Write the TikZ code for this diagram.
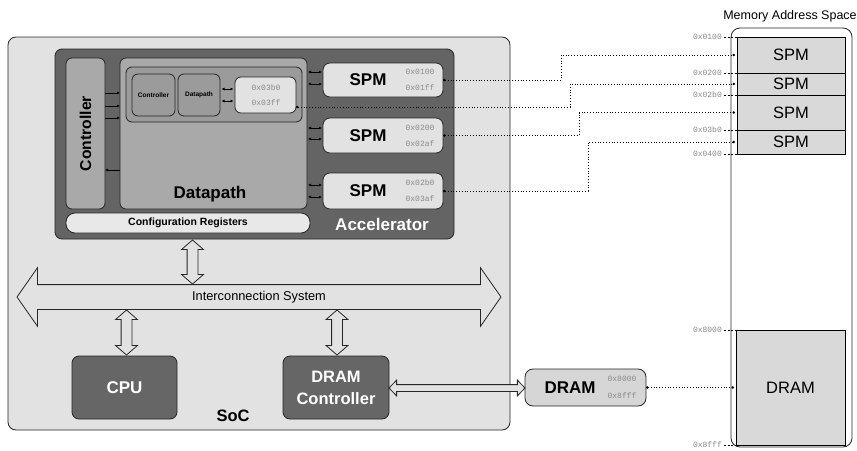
\documentclass[tikz,border=0pt]{standalone}
\usepackage{fontspec}
\setmainfont{Liberation Sans}
\setmonofont{Liberation Mono}
\usetikzlibrary{shapes.arrows,arrows.meta,calc}
\definecolor{socbg}{HTML}{E2E2E2}
\definecolor{accbg}{HTML}{646464}
\definecolor{midgray}{HTML}{A9A9A9}
\definecolor{innergray}{HTML}{9B9B9B}
\definecolor{lightbox}{HTML}{E2E2E2}
\definecolor{cfgfill}{HTML}{E8E8E8}
\definecolor{darkbox}{HTML}{666666}
\definecolor{dramfill}{HTML}{D6D6D6}
\definecolor{memfill}{HTML}{D9D9D9}
\definecolor{addrgray}{HTML}{8A8A8A}
\definecolor{edge}{HTML}{262626}
\begin{document}
\begin{tikzpicture}[x=1pt,y=-1pt,
  box/.style={draw=edge,line width=0.8pt,rounded corners=#1,inner sep=0pt,outer sep=0pt},
  box/.default=7pt,
  membox/.style={draw=black,line width=0.8pt,fill=memfill,inner sep=0pt,outer sep=0pt,font=\fontsize{16.5}{18}\selectfont},
  bigbold/.style={font=\fontsize{17}{20}\selectfont\bfseries,inner sep=0pt},
  tinybold/.style={font=\fontsize{6.5}{7}\selectfont\bfseries},
  addr/.style={font=\fontsize{8}{9}\ttfamily,text=addrgray,inner sep=0pt},
  maddr/.style={font=\fontsize{8}{9}\ttfamily,text=addrgray,inner sep=0pt,anchor=east},
  sarr/.style={{Latex[length=3pt,width=3pt]}-{Latex[length=3pt,width=3pt]},line width=0.6pt,black},
  sarrone/.style={-{Latex[length=3pt,width=3pt]},line width=0.6pt,black},
  dotline/.style={line width=0.8pt,dash pattern=on 1pt off 1.8pt,{Circle[length=2.4pt]}-{Circle[length=2.4pt]}},
  tick/.style={line width=0.6pt,dash pattern=on 2pt off 1.5pt},
  bus/.style={draw=edge,line width=0.8pt,fill=socbg,shape=double arrow,
    double arrow tip angle=110,double arrow head extend=17pt,
    minimum height=484pt,minimum width=58pt,inner xsep=0pt,inner ysep=6pt,
    text height=9pt,text depth=3pt,font=\fontsize{12.8}{14}\selectfont},
  vda/.style={draw=edge,line width=0.8pt,fill=socbg,shape=double arrow,rotate=90,
    double arrow tip angle=98,double arrow head extend=5.5pt,minimum width=21pt,
    inner xsep=0pt,inner ysep=5pt,text height=0pt,text depth=0pt},
  hda/.style={draw=edge,line width=0.8pt,fill=socbg,shape=double arrow,
    double arrow tip angle=92,double arrow head extend=4.5pt,minimum width=15pt,
    inner xsep=0pt,inner ysep=3pt,text height=0pt,text depth=0pt}
]
\useasboundingbox (0,0) rectangle (857,450);
\fill[white] (0,0) rectangle (857,450);

% SoC
\node[box=8pt,fill=socbg,minimum width=502pt,minimum height=393pt] (soc) at (259,233.5) {};
\node[bigbold,font=\fontsize{16.5}{18}\selectfont\bfseries] (soct) at (233,416) {SoC};

% Accelerator
\node[box=7pt,fill=accbg,minimum width=399pt,minimum height=190pt] (acc) at (254.5,144) {};
\node[bigbold,text=white] (acct) at (382,224) {Accelerator};

\node[box=6pt,fill=midgray,minimum width=39pt,minimum height=151pt] (ctrl) at (85.5,133.5) {};
\node[bigbold,font=\fontsize{15.7}{18}\selectfont\bfseries,rotate=90] (ctrlt) at (ctrl.center) {Controller};
\node[box=6pt,fill=midgray,minimum width=187pt,minimum height=151pt] (dp) at (213.5,133.5) {};
\node[bigbold] (dpt) at (210,194) {Datapath};

\node[box=6pt,fill=innergray,minimum width=176pt,minimum height=55pt] (inner) at (214,94.5) {};
\node[box=6pt,fill=innergray,minimum width=43pt,minimum height=42pt,tinybold] (ictrl) at (153.5,95) {Controller};
\node[box=6pt,fill=innergray,minimum width=42pt,minimum height=42pt,tinybold] (idp) at (199,95) {Datapath};
\node[box=6pt,fill=lightbox,minimum width=61pt,minimum height=36pt] (ispm) at (265.5,95) {};
\node[addr] (ia1) at (266,88) {0x03b0};
\node[addr] (ia2) at (266,103) {0x03ff};

\node[box=9pt,fill=cfgfill,minimum width=244pt,minimum height=20pt,font=\fontsize{10.5}{12}\selectfont\bfseries] (cfg) at (188,223) {Configuration Registers};

% SPMs
\node[box=7pt,fill=lightbox,minimum width=120pt,minimum height=34pt] (spm1) at (383,80) {};
\node[bigbold] (spm1t) at (368,80) {SPM};
\node[addr] (s1a) at (420,72) {0x0100};
\node[addr] (s1b) at (420,88) {0x01ff};
\node[box=7pt,fill=lightbox,minimum width=120pt,minimum height=35pt] (spm2) at (383,135.5) {};
\node[bigbold] (spm2t) at (368,135.5) {SPM};
\node[addr] (s2a) at (420,127.5) {0x0200};
\node[addr] (s2b) at (420,143.5) {0x02af};
\node[box=7pt,fill=lightbox,minimum width=120pt,minimum height=36pt] (spm3) at (383,191) {};
\node[bigbold] (spm3t) at (368,191) {SPM};
\node[addr] (s3a) at (420,183) {0x02b0};
\node[addr] (s3b) at (420,199) {0x03af};

% small arrows
\draw[sarrone] ([yshift=40.5pt]ctrl.east) -- ([yshift=40.5pt]dp.west);
\draw[sarrone] ([yshift=27.5pt]ctrl.east) -- ([yshift=27.5pt]dp.west);
\draw[sarrone] ([yshift=15.5pt]ctrl.east) -- ([yshift=15.5pt]dp.west);
\draw[sarrone] ([yshift=-36.5pt]dp.west) -- ([yshift=-36.5pt]ctrl.east);
\draw[sarr] ([yshift=6pt,xshift=1.5pt]idp.east) -- ([yshift=6pt,xshift=-1.5pt]ispm.west);
\draw[sarr] ([yshift=-6pt,xshift=1.5pt]idp.east) -- ([yshift=-6pt,xshift=-1.5pt]ispm.west);
\draw[sarr] ([yshift=8pt,xshift=-1pt]spm1.west) -- ++(-14,0);
\draw[sarr] ([yshift=-4pt,xshift=-1pt]spm1.west) -- ++(-14,0);
\draw[sarr] ([yshift=7.5pt,xshift=-1pt]spm2.west) -- ++(-14,0);
\draw[sarr] ([yshift=-3.5pt,xshift=-1pt]spm2.west) -- ++(-14,0);
\draw[sarr] ([yshift=6pt,xshift=-1pt]spm3.west) -- ++(-14,0);
\draw[sarr] ([yshift=-6pt,xshift=-1pt]spm3.west) -- ++(-14,0);

% bus and hollow arrows
\node[bus] (bus) at (259,297) {Interconnection System};
\node[vda,minimum height=44pt] (a1) at (192.5,262) {};
\node[vda,minimum height=45pt] (a2) at (126.5,332.5) {};
\node[vda,minimum height=45pt] (a3) at (337,332.5) {};

% CPU, DRAM controller
\node[box=7pt,fill=darkbox,minimum width=105pt,minimum height=63pt,text=white,bigbold] (cpu) at (124.5,387.5) {CPU};
\node[box=7pt,fill=darkbox,minimum width=106pt,minimum height=63pt,text=white,font=\fontsize{16.5}{22}\selectfont\bfseries,align=center] (dctrl) at (336,387.5) {DRAM\\Controller};

% DRAM
\node[box=8pt,fill=dramfill,minimum width=121pt,minimum height=37pt] (dram) at (585.5,387.5) {};
\node[bigbold] (dramt) at (570,388) {DRAM};
\node[addr] (da) at (622,379) {0x8000};
\node[addr] (db) at (622,396) {0x8fff};
\node[hda,minimum height=136pt] (a4) at (457,388) {};

% Memory address space
\node[font=\fontsize{12.5}{14}\selectfont,inner sep=0pt] (memt) at (790,16) {Memory Address Space};
\node[box=9pt,fill=white,minimum width=121pt,minimum height=419pt] (mem) at (791.5,237.5) {};
\node[membox,minimum width=108pt,minimum height=36pt] (mspm1) at (791,55) {SPM};
\node[membox,minimum width=108pt,minimum height=22pt] (mspm2) at (791,84) {SPM};
\node[membox,minimum width=108pt,minimum height=35pt] (mspm3) at (791,112.5) {SPM};
\node[membox,minimum width=108pt,minimum height=24pt] (mspm4) at (791,142) {SPM};
\node[membox,minimum width=109pt,minimum height=115pt] (mdram) at (790.5,387.5) {DRAM};

\node[maddr] (m1) at (722,37) {0x0100};
\node[maddr] (m2) at (722,73) {0x0200};
\node[maddr] (m3) at (722,95) {0x02b0};
\node[maddr] (m4) at (722,130) {0x03b0};
\node[maddr] (m5) at (722,154) {0x0400};
\node[maddr] (m6) at (722,330) {0x8000};
\node[maddr] (m7) at (722,445) {0x8fff};
\draw[tick] ([xshift=2pt]m1.east) -- (mspm1.north west);
\draw[tick] ([xshift=2pt]m2.east) -- (mspm2.north west);
\draw[tick] ([xshift=2pt]m3.east) -- (mspm3.north west);
\draw[tick] ([xshift=2pt]m4.east) -- (mspm4.north west);
\draw[tick] ([xshift=2pt]m5.east) -- (mspm4.south west);
\draw[tick] ([xshift=2pt]m6.east) -- (mdram.north west);
\draw[tick] ([xshift=2pt]m7.east) -- (mdram.south west);

% dotted mappings
\draw[dotline] (spm1.east) -- ++(118,0) |- ([xshift=-2pt]mspm1.west);
\draw[dotline] ([yshift=-12pt]ispm.east) -- ++(274,0) |- ([xshift=-2pt]mspm2.west);
\draw[dotline] (spm2.east) -- ++(136,0) |- ([xshift=-2pt]mspm3.west);
\draw[dotline] (spm3.east) -- ++(145,0) |- ([xshift=-2pt]mspm4.west);
\draw[dotline] (dram.east) -- ([xshift=-2pt]mdram.west);
\end{tikzpicture}
\end{document}
